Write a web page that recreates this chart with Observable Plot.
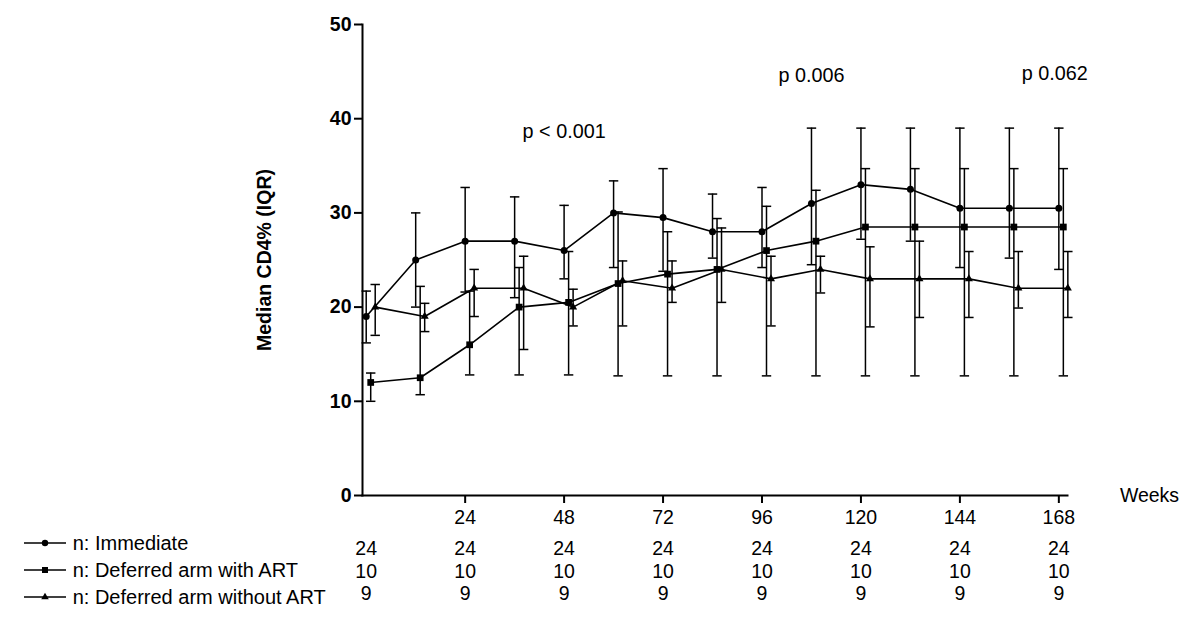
<!DOCTYPE html>
<html>
<head>
<meta charset="utf-8">
<script src="https://cdn.jsdelivr.net/npm/d3@7"></script>
<script src="https://cdn.jsdelivr.net/npm/@observablehq/plot@0.6"></script>
<style>
  html, body { margin: 0; padding: 0; background: white; }
  #wrap { position: relative; width: 1200px; height: 622px; overflow: hidden; }
  #chart { position: absolute; left: 0; top: 0; }
  #legend { position: absolute; left: 24px; top: 529px; font-family: "Liberation Sans", Arial, sans-serif; font-size: 20px; color: black; }
  #legend .row { display: flex; align-items: center; height: 27.3px; white-space: nowrap; }
  #legend svg { margin-right: 6.7px; }
  #legend span { line-height: 20px; }
</style>
</head>
<body>
<div id="wrap">
  <div id="chart"></div>
  <div id="legend"></div>
</div>
<script>
// ---------- data ----------
const weeks = [0, 12, 24, 36, 48, 60, 72, 84, 96, 108, 120, 132, 144, 156, 168];

const immediateMedian = [19, 25, 27, 27, 26, 30, 29.5, 28, 28, 31, 33, 32.5, 30.5, 30.5, 30.5];
const immediateQ1     = [16.2, 20, 21.6, 21, 23, 24.2, 23.8, 25.2, 24.2, 24.5, 27.2, 27, 24.2, 25.2, 24];
const immediateQ3     = [21.7, 30, 32.7, 31.7, 30.8, 33.4, 34.7, 32, 32.7, 39, 39, 39, 39, 39, 39];

const withArtMedian = [12, 12.5, 16, 20, 20.5, 22.5, 23.5, 24, 26, 27, 28.5, 28.5, 28.5, 28.5, 28.5];
const withArtQ1     = [10, 10.7, 12.8, 12.8, 12.8, 12.7, 12.7, 12.7, 12.7, 12.7, 12.7, 12.7, 12.7, 12.7, 12.7];
const withArtQ3     = [13, 22.2, 21.7, 24.2, 25.9, 30.1, 28, 29.4, 30.7, 32.4, 34.7, 34.7, 34.7, 34.7, 34.7];

const withoutArtMedian = [20, 19, 22, 22, 20, 22.8, 22, 24, 23, 24, 23, 23, 23, 22, 22];
const withoutArtQ1     = [17, 17.4, 19, 15.5, 18, 18, 20.5, 20.5, 18, 21.5, 17.9, 18.9, 18.9, 19.9, 18.9];
const withoutArtQ3     = [22.4, 20.4, 24, 25.4, 21.9, 24.9, 24.9, 28.4, 25.4, 25.4, 26.4, 27, 25.9, 25.9, 25.9];

const seriesNames = ["n: Immediate", "n: Deferred arm with ART", "n: Deferred arm without ART"];

const yTicks = [0, 10, 20, 30, 40, 50];
const xTicks = [24, 48, 72, 96, 120, 144, 168];

const countWeeks = [0, 24, 48, 72, 96, 120, 144, 168];
const countImmediate  = [24, 24, 24, 24, 24, 24, 24, 24];
const countWithArt    = [10, 10, 10, 10, 10, 10, 10, 10];
const countWithoutArt = [9, 9, 9, 9, 9, 9, 9, 9];

const pLabels  = ["p < 0.001", "p 0.006", "p 0.062"];
const pWeeks   = [48, 108, 167];
const pHeights = [38, 43.9, 44.1];

// ---------- styles ----------
const FONT = "'Liberation Sans', Arial, Helvetica, sans-serif";
const seriesStyle = [
  {symbol: "circle",   r: 3.5, dx: 0},
  {symbol: "square",   r: 3.8, dx: 4.5},
  {symbol: "triangle", r: 3.0, dx: 9}
];

const capSymbol = {
  draw(context, size) {
    const r = Math.sqrt(size / Math.PI);
    context.moveTo(-r, 0);
    context.lineTo(r, 0);
  }
};

// ---------- build ----------
const seriesData = [
  {med: immediateMedian, q1: immediateQ1, q3: immediateQ3},
  {med: withArtMedian, q1: withArtQ1, q3: withArtQ3},
  {med: withoutArtMedian, q1: withoutArtQ1, q3: withoutArtQ3}
].map(s => weeks.map((w, i) => ({week: w, median: s.med[i], q1: s.q1[i], q3: s.q3[i]})));

const seriesMarks = seriesData.flatMap((rows, k) => {
  const st = seriesStyle[k];
  return [
    Plot.ruleX(rows, {x: "week", y1: "q1", y2: "q3", dx: st.dx, stroke: "black", strokeWidth: 1.5}),
    Plot.dot(rows, {x: "week", y: "q1", symbol: capSymbol, r: 4.7, dx: st.dx, fill: "none", stroke: "black", strokeWidth: 1.5}),
    Plot.dot(rows, {x: "week", y: "q3", symbol: capSymbol, r: 4.7, dx: st.dx, fill: "none", stroke: "black", strokeWidth: 1.5}),
    Plot.line(rows, {x: "week", y: "median", dx: st.dx, stroke: "black", strokeWidth: 1.6}),
    Plot.dot(rows, {x: "week", y: "median", symbol: st.symbol, r: st.r, dx: st.dx, fill: "black", stroke: "none"})
  ];
});

const counts = [countImmediate, countWithArt, countWithoutArt];
const countRowDy = [53.5, 76, 98.5];
const countMarks = counts.map((c, k) =>
  Plot.text(countWeeks.map((w, i) => ({week: w, n: c[i]})), {
    x: "week", text: d => String(d.n), frameAnchor: "bottom", dy: countRowDy[k],
    lineAnchor: "middle", textAnchor: "middle", fontSize: 19.5, fill: "black"
  })
);

const pData = pLabels.map((t, i) => ({label: t, week: pWeeks[i], y: pHeights[i]}));

const chart = Plot.plot({
  width: 1200,
  height: 622,
  marginLeft: 362,
  marginRight: 133,
  marginTop: 24,
  marginBottom: 127,
  x: {domain: [-0.9, 170.1]},
  y: {domain: [0, 50]},
  style: {fontFamily: FONT, fontSize: "19px", color: "black", background: "white", overflow: "visible"},
  marks: [
    Plot.frame({anchor: "left", stroke: "black", strokeWidth: 2}),
    Plot.frame({anchor: "bottom", stroke: "black", strokeWidth: 2}),
    Plot.axisY({
      ticks: yTicks, tickSize: 8, tickPadding: 3, strokeWidth: 2,
      fontWeight: "bold", fontSize: 19.5,
      label: "Median CD4% (IQR)", labelAnchor: "center", labelArrow: "none", labelOffset: 105
    }),
    Plot.axisX({ticks: xTicks, tickSize: 8, tickPadding: 6.5, strokeWidth: 2, fontSize: 19.5, label: null}),
    Plot.text(["Weeks"], {frameAnchor: "bottom-right", dx: 82, textAnchor: "middle", lineAnchor: "middle", fontSize: 19.5, fill: "black"}),
    ...seriesMarks,
    Plot.text(pData, {x: "week", y: "y", text: "label", textAnchor: "middle", lineAnchor: "bottom", fontSize: 19.8, fill: "black"}),
    ...countMarks
  ]
});
document.getElementById("chart").appendChild(chart);

// ---------- legend ----------
const legend = d3.select("#legend");
seriesNames.forEach((name, k) => {
  const row = legend.append("div").attr("class", "row");
  const svg = row.append("svg").attr("width", 42).attr("height", 12);
  svg.append("line").attr("x1", 0).attr("x2", 42).attr("y1", 6).attr("y2", 6)
    .attr("stroke", "black").attr("stroke-width", 1.6);
  const symType = k === 0 ? d3.symbolCircle : k === 1 ? d3.symbolSquare : d3.symbolTriangle;
  const rr = k === 0 ? 3.2 : k === 1 ? 3.4 : 2.8;
  svg.append("path").attr("transform", "translate(21,6)")
    .attr("d", d3.symbol(symType, Math.PI * rr * rr)()).attr("fill", "black");
  row.append("span").text(name);
});
</script>
</body>
</html>
